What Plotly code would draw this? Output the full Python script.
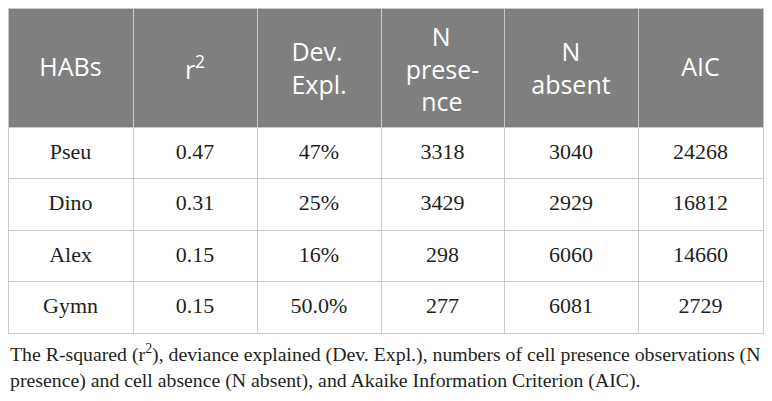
import plotly.graph_objects as go

# table content
habs = ["Pseu", "Dino", "Alex", "Gymn"]
r2 = ["0.47", "0.31", "0.15", "0.15"]
dev_expl = ["47%", "25%", "16%", "50.0%"]
n_presence = ["3318", "3429", "298", "277"]
n_absent = ["3040", "2929", "6060", "6081"]
aic = ["24268", "16812", "14660", "2729"]

NB = "\u00a0"
# header labels, grouped by number of lines (each group gets its own vertical offset)
head_1 = ["<span>HABs</span>", "r<sup>2</sup>", "", "", "", "<span>AIC</span>"]
head_2 = ["", "", "Dev.<br>Expl.", "", NB * 4 + "\u2009N<br>absent", ""]
head_3 = ["", "", "", NB * 4 + "N<br>prese-<br>" + NB * 2 + "\u200ance", "", ""]

caption = ("The R-squared (r<sup>2</sup>), deviance explained (Dev. Expl.), numbers of cell presence observations (N"
           "<br>presence) and cell absence (N absent), and Akaike Information Criterion (AIC).")

W, H = 772, 401
colw = [125, 124, 124, 123, 134, 125]
HEAD_GRAY = "#7f7f7f"
LINE_GRAY = "#c9c9c9"
TEXT_DARK = "#231f20"
CLEAR = "rgba(0,0,0,0)"
HEAD_H = 119
ROW_H = 51.5

# page body adds 8px, so the table starts at the figure's corner
x_dom = [0, 755 / W]

columns = [habs, r2, dev_expl, n_presence, n_absent, aic]
n_rows = len(habs)
blank = [[""] * n_rows for _ in columns]
blank_head = [""] * len(columns)

head_font = dict(family="Open Sans", size=25, color="white")
body_font = dict(family="Liberation Serif", size=22, color=TEXT_DARK)


def dom(top_px):
    return [0, 1 - top_px / H]


fig = go.Figure()

# grid with fills
fig.add_trace(go.Table(
    domain=dict(x=x_dom, y=dom(0)),
    columnwidth=colw,
    header=dict(values=blank_head, height=HEAD_H, fill_color=HEAD_GRAY,
                line=dict(color=LINE_GRAY, width=1)),
    cells=dict(values=blank, height=ROW_H, fill_color="white",
               line=dict(color=LINE_GRAY, width=1)),
))


def overlay(head, vals, top_px):
    return go.Table(
        domain=dict(x=x_dom, y=dom(top_px)),
        columnwidth=colw,
        header=dict(values=head, height=HEAD_H, fill_color=CLEAR,
                    line=dict(color=CLEAR, width=0), align="center", font=head_font),
        cells=dict(values=vals, height=ROW_H, fill_color=CLEAR,
                   line=dict(color=CLEAR, width=0), align="center", font=body_font),
    )


fig.add_trace(overlay(head_3, blank, 3))
fig.add_trace(overlay(head_2, blank, 18))
fig.add_trace(overlay(head_1, blank, 33))
fig.add_trace(overlay(blank_head, columns, 7))

fig.add_annotation(text=caption, xref="paper", yref="paper", x=0, y=1 - 331 / H,
                   xanchor="left", yanchor="top", align="left", showarrow=False,
                   font=dict(family="Liberation Serif", size=19.8, color=TEXT_DARK))

fig.update_layout(width=W, height=H, margin=dict(l=0, r=0, t=0, b=0),
                  paper_bgcolor="white", plot_bgcolor="white")

fig.write_html("out.html")
